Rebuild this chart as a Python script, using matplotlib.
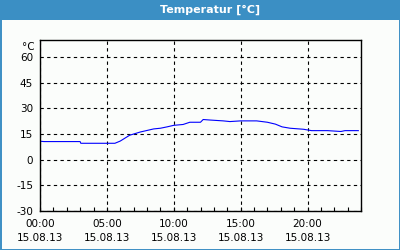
import matplotlib
matplotlib.use('Agg')
from matplotlib import pyplot as plt
from matplotlib.patches import Rectangle
from matplotlib.ticker import MultipleLocator

# Stunden seit 00:00 und Temperatur in °C
stunden = [0.0, 0.3, 3.0, 3.05, 5.6, 6.0, 6.7, 7.5, 8.5, 9.0, 9.5, 10.0, 10.7, 11.2,
           12.0, 12.2, 12.7, 13.7, 14.2, 15.0, 16.2, 17.0, 17.6, 18.1, 18.7, 19.7,
           20.3, 21.5, 22.5, 22.8, 23.8]
temperatur = [10.8, 10.6, 10.6, 9.6, 9.6, 10.9, 14.3, 16.2, 18.0, 18.4, 19.2, 20.1, 20.6, 21.9,
              21.9, 23.5, 23.2, 22.7, 22.3, 22.7, 22.7, 21.9, 20.8, 19.2, 18.4, 17.8,
              17.0, 17.0, 16.5, 17.0, 17.0]
x_ticks = [0, 5, 10, 15, 20]
x_labels = ['00:00\n15.08.13', '05:00\n15.08.13', '10:00\n15.08.13',
            '15:00\n15.08.13', '20:00\n15.08.13']
y_ticks = [-30, -15, 0, 15, 30, 45, 60]

blau = '#3b8fc4'
fig = plt.figure(figsize=(4, 2.5), dpi=100)
fig.patch.set_facecolor('#fbfdfb')

# Titelleiste und Rahmen
fig.add_artist(Rectangle((0, 230 / 250), 1, 20 / 250, transform=fig.transFigure,
                         facecolor=blau, edgecolor='none'))
fig.add_artist(Rectangle((0.5 / 400, 0.5 / 250), 399 / 400, 249 / 250, transform=fig.transFigure,
                         facecolor='none', edgecolor=blau, linewidth=1.4))
fig.text(210 / 400, 240 / 250, 'Temperatur [°C]', color='white', fontweight='bold',
         fontsize=8, ha='center', va='center')

ax = fig.add_axes([40 / 400, 39 / 250, 321 / 400, 171 / 250])
ax.set_facecolor('#fbfdfb')
ax.plot(stunden, temperatur, color='#0000ff', linewidth=0.8)

ax.set_xlim(0, 24)
ax.set_ylim(-30, 70)
ax.set_xticks(x_ticks)
ax.set_xticklabels(x_labels, fontsize=7.5, linespacing=1.45)
ax.set_yticks(y_ticks)
ax.set_yticklabels([str(v) for v in y_ticks], fontsize=7.5)
ax.xaxis.set_minor_locator(MultipleLocator(1))
ax.tick_params(axis='x', which='both', direction='in', length=3, width=0.8, pad=6)
ax.tick_params(axis='y', length=0, pad=5)
ax.grid(True, color='black', linestyle=(0, (3, 3)), linewidth=0.8)
for s in ax.spines.values():
    s.set_linewidth(1.0)

fig.text(35 / 400, 203 / 250, '°C', fontsize=7.5, ha='right', va='center')

plt.savefig('out.png', dpi=100, facecolor=fig.get_facecolor())
